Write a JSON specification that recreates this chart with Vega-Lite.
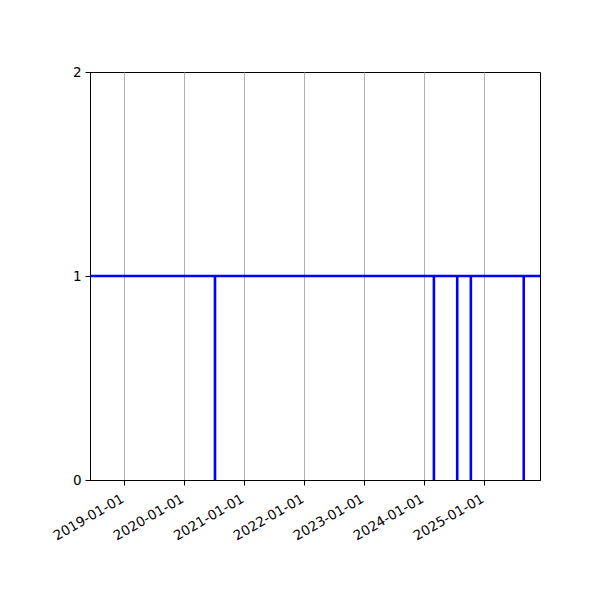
{
  "$schema": "https://vega.github.io/schema/vega-lite/v6.json",
  "width": 450,
  "height": 408,
  "autosize": {"type": "none"},
  "padding": {"left": 90, "top": 72, "right": 60, "bottom": 120},
  "background": "white",
  "config": {
    "view": {"stroke": "black", "strokeWidth": 1},
    "font": "DejaVu Sans",
    "axis": {
      "labelFont": "DejaVu Sans",
      "labelFontSize": 13.5,
      "labelColor": "black",
      "domainColor": "black",
      "domainWidth": 1,
      "tickColor": "black",
      "tickSize": 5,
      "tickWidth": 1,
      "title": null
    }
  },
  "data": {
    "values": [
      {"i": 0, "t": "2018-06-06", "v": 1},
      {"i": 1, "t": "2020-07-06", "v": 1},
      {"i": 2, "t": "2020-07-06", "v": 0},
      {"i": 3, "t": "2020-07-06", "v": 1},
      {"i": 4, "t": "2024-02-29", "v": 1},
      {"i": 5, "t": "2024-02-29", "v": 0},
      {"i": 6, "t": "2024-02-29", "v": 1},
      {"i": 7, "t": "2024-07-20", "v": 1},
      {"i": 8, "t": "2024-07-20", "v": 0},
      {"i": 9, "t": "2024-07-20", "v": 1},
      {"i": 10, "t": "2024-10-11", "v": 1},
      {"i": 11, "t": "2024-10-11", "v": 0},
      {"i": 12, "t": "2024-10-11", "v": 1},
      {"i": 13, "t": "2025-08-29", "v": 1},
      {"i": 14, "t": "2025-08-29", "v": 0},
      {"i": 15, "t": "2025-08-29", "v": 1},
      {"i": 16, "t": "2025-12-06", "v": 1}
    ]
  },
  "mark": {"type": "line", "color": "#0000ff", "strokeWidth": 2.6, "clip": true, "strokeJoin": "miter"},
  "encoding": {
    "x": {
      "field": "t",
      "type": "temporal",
      "scale": {
        "type": "utc",
        "domain": [
          {"year": 2018, "month": 6, "date": 6, "utc": true},
          {"year": 2025, "month": 12, "date": 6, "utc": true}
        ]
      },
      "axis": {
        "values": [
          {"year": 2019, "month": 1, "date": 1, "utc": true},
          {"year": 2020, "month": 1, "date": 1, "utc": true},
          {"year": 2021, "month": 1, "date": 1, "utc": true},
          {"year": 2022, "month": 1, "date": 1, "utc": true},
          {"year": 2023, "month": 1, "date": 1, "utc": true},
          {"year": 2024, "month": 1, "date": 1, "utc": true},
          {"year": 2025, "month": 1, "date": 1, "utc": true}
        ],
        "labelExpr": "utcFormat(datum.value, '%Y-%m-%d')",
        "labelAngle": -30,
        "labelAlign": "right",
        "labelBaseline": "alphabetic",
        "labelPadding": 16,
        "labelOverlap": false,
        "grid": true,
        "gridColor": "#b0b0b0",
        "gridWidth": 1
      }
    },
    "y": {
      "field": "v",
      "type": "quantitative",
      "scale": {"domain": [0, 2], "nice": false},
      "axis": {"values": [0, 1, 2], "labelExpr": "format(datum.value, 'd')", "grid": false, "labelPadding": 4}
    },
    "order": {"field": "i", "type": "quantitative"}
  }
}
